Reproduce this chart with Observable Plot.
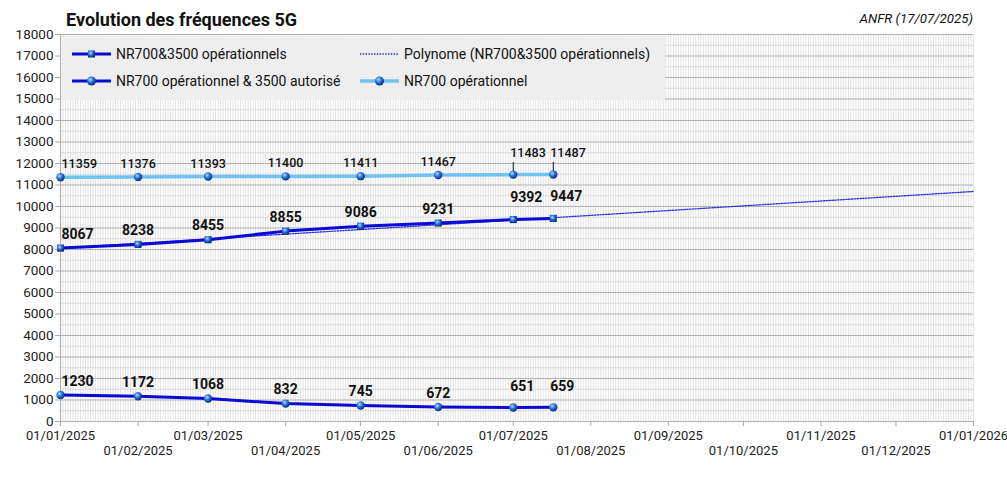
<!DOCTYPE html>
<html>
<head>
<meta charset="utf-8">
<script src="https://cdn.jsdelivr.net/npm/d3@7"></script>
<script src="https://cdn.jsdelivr.net/npm/@observablehq/plot@0.6"></script>
<style>
  body { margin: 0; background: #fff; font-family: Roboto, "Noto Sans", sans-serif; }
  #wrap { position: relative; width: 1007px; height: 496px; }
  #title { position: absolute; left: 66px; top: 9px; font-size: 18px; font-weight: bold; color: #111; line-height: 1.17; }
  #source { position: absolute; right: 34px; top: 11px; font-size: 13.3px; font-style: italic; color: #111; line-height: 1.17; }
  #legend { position: absolute; left: 61px; top: 36px; width: 604px; height: 64px; background: #eeeeee; }
  .item { position: absolute; font-size: 14px; color: #111; display: flex; align-items: center; height: 16px; white-space: nowrap; }
  .item svg { margin-right: 5px; }
</style>
</head>
<body>
<div id="wrap">
  <div id="chart"></div>
  <div id="title">Evolution des fréquences 5G</div>
  <div id="source">ANFR (17/07/2025)</div>
  <div id="legend"></div>
</div>
<script>
// ---- Data ----
const dateStrings = ["2025-01-01", "2025-02-01", "2025-03-01", "2025-04-01", "2025-05-01", "2025-06-01", "2025-07-01", "2025-07-17"];
const nr700Operationnel = [11359, 11376, 11393, 11400, 11411, 11467, 11483, 11487];
const nr700Et3500Operationnels = [8067, 8238, 8455, 8855, 9086, 9231, 9392, 9447];
const nr700Op3500Autorise = [1230, 1172, 1068, 832, 745, 672, 651, 659];
const trendDateStrings = ["2025-01-01", "2025-04-01", "2025-07-17", "2025-10-01", "2026-01-01"];
const trendValues = [8065, 8715, 9480, 10030, 10700];
const seriesNames = ["NR700&3500 opérationnels", "Polynome (NR700&3500 opérationnels)", "NR700 opérationnel & 3500 autorisé", "NR700 opérationnel"];
const yTickValues = d3.range(0, 18001, 1000);
const yMinorValues = d3.range(500, 18000, 1000);
const xStart = "2025-01-01", xEnd = "2026-01-01";

// ---- Helpers ----
const utc = s => new Date(s + "T00:00:00Z");
const dates = dateStrings.map(utc);
const mk = (vals) => vals.map((v, i) => ({date: dates[i], v, i, n: vals.length}));
const light = mk(nr700Operationnel);
const dark = mk(nr700Et3500Operationnels);
const low = mk(nr700Op3500Autorise);
const trend = trendDateStrings.map((s, i) => ({date: utc(s), v: trendValues[i]}));
const months = d3.utcMonths(utc(xStart), d3.utcDay.offset(utc(xEnd), 1));
const oddMonths = months.filter((d, i) => i % 2 === 0);
const evenMonths = months.filter((d, i) => i % 2 === 1);
const days = d3.utcDays(utc(xStart), d3.utcDay.offset(utc(xEnd), 1));
const fmt = d3.utcFormat("%d/%m/%Y");

const DARK = "#0a0ad2";
const LIGHT = "#6fc3f2";

const defs = () => {
  const s = d3.create("svg:defs");
  const g = s.append("radialGradient").attr("id", "sphere").attr("cx", "38%").attr("cy", "35%").attr("r", "65%");
  g.append("stop").attr("offset", "0%").attr("stop-color", "#bfe0ff");
  g.append("stop").attr("offset", "45%").attr("stop-color", "#2f7ae0");
  g.append("stop").attr("offset", "100%").attr("stop-color", "#0a2a80");
  return s.node();
};

const first = d => d.i === 0;
const mid = d => d.i > 0 && d.i < d.n - 2;
const last = d => d.i >= d.n - 2;

function labels(rows, opts) {
  const base = {x: "date", y: "v", text: d => String(d.v), fill: "#111", lineAnchor: "middle", fontSize: opts.fontSize, fontWeight: opts.fontWeight};
  return [
    Plot.text(rows, {...base, filter: first, textAnchor: "start", dx: 1, dy: opts.dyN}),
    Plot.text(rows, {...base, filter: mid, textAnchor: "middle", dy: opts.dyN}),
    Plot.text(rows, {...base, filter: last, textAnchor: "start", dx: -3, dy: opts.dyL})
  ];
}

const chart = Plot.plot({
  width: 1007,
  height: 496,
  marginLeft: 60,
  marginRight: 34,
  marginTop: 34,
  marginBottom: 75,
  style: {fontFamily: "Roboto, sans-serif", fontSize: "13px", background: "#fff", overflow: "visible"},
  x: {type: "utc", domain: [utc(xStart), utc(xEnd)]},
  y: {domain: [0, 18000]},
  marks: [
    defs,
    Plot.ruleX(days, {stroke: "#e3e3e3", strokeWidth: 1}),
    Plot.ruleY(yMinorValues, {stroke: "#dadada", strokeWidth: 1.2}),
    Plot.ruleY(yTickValues, {stroke: "#b0b0b0", strokeWidth: 1.2}),
    Plot.ruleX([utc(xStart)], {stroke: "#b0b0b0", strokeWidth: 1.2}),
    Plot.axisY({ticks: yTickValues, tickFormat: d => String(d), tickSize: 5, tickPadding: 2, stroke: "#aaa", fill: "#222", fontSize: 13.5, label: null}),
    Plot.axisX({ticks: oddMonths, tickFormat: fmt, tickSize: 5, tickPadding: 4, stroke: "#aaa", fill: "#222", fontSize: 13, label: null}),
    Plot.axisX({ticks: evenMonths, tickFormat: fmt, tickSize: 5, tickPadding: 19, stroke: "#aaa", fill: "#222", fontSize: 13, label: null}),
    Plot.line(trend, {x: "date", y: "v", stroke: "#2a2ae0", strokeWidth: 1.3, strokeDasharray: "1.4 1.4"}),
    Plot.line(light, {x: "date", y: "v", stroke: LIGHT, strokeWidth: 3.5}),
    Plot.line(dark, {x: "date", y: "v", stroke: DARK, strokeWidth: 3}),
    Plot.line(low, {x: "date", y: "v", stroke: DARK, strokeWidth: 3}),
    Plot.ruleX(light.filter(last), {x: "date", y1: d => d.v + 60, y2: d => d.v + 560, stroke: "#111", strokeWidth: 1}),
    Plot.dot(light, {x: "date", y: "v", r: 4.2, fill: "url(#sphere)"}),
    Plot.dot(low, {x: "date", y: "v", r: 4.2, fill: "url(#sphere)"}),
    Plot.dot(dark, {x: "date", y: "v", r: 4, symbol: "square", fill: "url(#sphere)"}),
    ...labels(light, {fontSize: 12.5, fontWeight: 500, dyN: -13, dyL: -22}),
    ...labels(dark, {fontSize: 14, fontWeight: "bold", dyN: -14, dyL: -22}),
    ...labels(low, {fontSize: 14, fontWeight: "bold", dyN: -14, dyL: -21})
  ]
});
document.getElementById("chart").appendChild(chart);

// ---- Legend ----
const legendItems = [
  {name: seriesNames[0], left: 11, top: 10, sym: "square"},
  {name: seriesNames[1], left: 297, top: 10, sym: "trend"},
  {name: seriesNames[2], left: 11, top: 37, sym: "sphereDark"},
  {name: seriesNames[3], left: 297, top: 37, sym: "sphereLight"}
];
const legend = document.getElementById("legend");
for (const it of legendItems) {
  const div = document.createElement("div");
  div.className = "item";
  div.style.left = it.left + "px";
  div.style.top = it.top + "px";
  let svg;
  if (it.sym === "square") {
    svg = `<svg width="39" height="14"><line x1="0" x2="39" y1="7" y2="7" stroke="${DARK}" stroke-width="3"/><rect x="16" y="3.5" width="7" height="7" fill="url(#sphere)"/></svg>`;
  } else if (it.sym === "trend") {
    svg = `<svg width="41" height="14"><line x1="2" x2="42" y1="7" y2="7" stroke="#2a2ae0" stroke-width="1.3" stroke-dasharray="1.4 1.4"/></svg>`;
  } else if (it.sym === "sphereDark") {
    svg = `<svg width="39" height="14"><line x1="0" x2="39" y1="7" y2="7" stroke="${DARK}" stroke-width="3"/><circle cx="19.5" cy="7" r="4.5" fill="url(#sphere)"/></svg>`;
  } else {
    svg = `<svg width="41" height="14"><line x1="2" x2="41" y1="7" y2="7" stroke="${LIGHT}" stroke-width="3.5"/><circle cx="21.5" cy="7" r="4.5" fill="url(#sphere)"/></svg>`;
  }
  div.innerHTML = svg + `<span>${it.name}</span>`;
  legend.appendChild(div);
}
</script>
</body>
</html>
